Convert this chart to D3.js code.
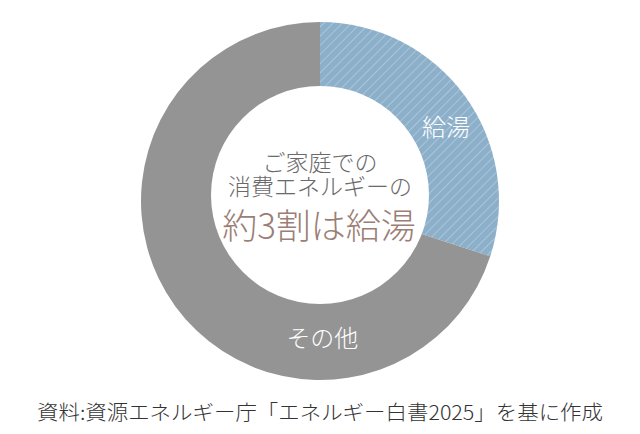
<!DOCTYPE html>
<html><head><meta charset="utf-8">
<script src="https://cdn.jsdelivr.net/npm/d3@7"></script>
<style>
html,body{margin:0;padding:0;background:#fff;}
svg{display:block;}
text{font-family:"Noto Sans CJK JP","Noto Sans",sans-serif;font-weight:300;}
</style></head>
<body>
<svg id="chart" width="640" height="434"></svg>
<script>
const categories = ["給湯", "その他"];
const values = [30, 70];
const centerLines = ["ご家庭での", "消費エネルギーの"];
const headline = "約3割は給湯";
const sourceNote = "資料:資源エネルギー庁「エネルギー白書2025」を基に作成";

const svg = d3.select("#chart");
const cx = 320, cy = 201, R = 179;
const defs = svg.append("defs");
const pat = defs.append("pattern").attr("id","hatch").attr("patternUnits","userSpaceOnUse")
  .attr("width",6.5).attr("height",6.5).attr("patternTransform","rotate(45)");
pat.append("rect").attr("width",6.5).attr("height",6.5).attr("fill","#8db0ca");
pat.append("line").attr("x1",0).attr("y1",0).attr("x2",0).attr("y2",6.5)
  .attr("stroke","#c2d6e5").attr("stroke-width",1.1);

const fills = d3.scaleOrdinal().domain(categories).range(["url(#hatch)","#949494"]);
const pie = d3.pie().sort(null).value(d => d.v);
const data = pie(categories.map((c,i)=>({c, v: values[i]})));
const arc = d3.arc().innerRadius(0).outerRadius(R);
const g = svg.append("g").attr("transform",`translate(${cx},${cy})`);
g.selectAll("path").data(data).join("path").attr("d",arc).attr("fill",d=>fills(d.data.c));

// white hole (slightly above the ring centre, as in the reference)
svg.append("circle").attr("cx",cx).attr("cy",cy-6).attr("r",109).attr("fill","#fff");

// slice labels
const labelPos = {"給湯": {a: 59, r: 147}, "その他": {a: 179, r: 136}};
g.selectAll("text.lab").data(data).join("text").attr("class","lab")
  .attr("x", d => labelPos[d.data.c].r*Math.sin(labelPos[d.data.c].a*Math.PI/180))
  .attr("y", d => -labelPos[d.data.c].r*Math.cos(labelPos[d.data.c].a*Math.PI/180))
  .attr("text-anchor","middle").attr("dominant-baseline","central")
  .attr("fill","#fff").attr("font-size",24).text(d=>d.data.c);

// centre text (one text block, two lines)
const ct = svg.append("text").attr("text-anchor","middle")
  .attr("fill","#6a6a6a").attr("font-size",23);
ct.selectAll("tspan").data(centerLines).join("tspan")
  .attr("x",cx).attr("y",(d,i)=>161+i*24).attr("dominant-baseline","central").text(d=>d);
svg.append("text").attr("x",cx-1).attr("y",223).attr("text-anchor","middle").attr("dominant-baseline","central")
  .attr("fill","#9b7e75").attr("font-size",35).text(headline);

// source
svg.append("text").attr("x",37).attr("y",411).attr("dominant-baseline","central")
  .attr("fill","#333").attr("font-size",20).attr("textLength",566).attr("lengthAdjust","spacingAndGlyphs")
  .text(sourceNote);
</script>
</body></html>
